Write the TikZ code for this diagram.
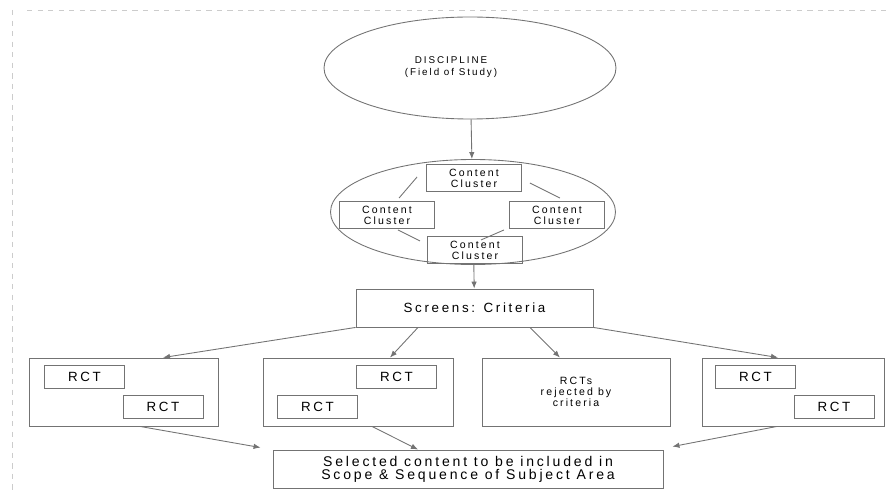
\documentclass[tikz,border=0pt]{standalone}
\usepackage{fontspec}
\setmainfont{Liberation Sans}[LetterSpace=20]
\usetikzlibrary{positioning, shapes.geometric, arrows.meta}

\begin{document}
\begin{tikzpicture}[x=0.2mm, y=-0.2mm, >={Latex[length=1.4mm, width=1.1mm]},
		line/.style={draw=black!55, line width=0.5pt},
		oval/.style={line, ellipse, inner sep=0pt},
		cbox/.style={line, rectangle, minimum width=19mm, minimum height=5.4mm, inner sep=0pt, align=center, font=\fontsize{6}{6.4}\selectfont},
		rbox/.style={line, rectangle, minimum width=16mm, minimum height=4.6mm, inner sep=0pt, font=\fontsize{7.6}{8}\selectfont},
		bigbox/.style={line, rectangle, minimum height=13.6mm, inner sep=0pt, align=center, font=\fontsize{6}{6.3}\selectfont},
		wire/.style={draw=black!55, line width=0.5pt}]
		\useasboundingbox (0, 0) rectangle (887, 493);
		% scan border
		\draw [black!20, dashed, line width=0.4pt] (27, 10) -- (887, 10);
		\draw [black!20, dashed, line width=0.4pt] (12, 10) -- (12, 493);

		\node[oval, minimum width=58.4mm, minimum height=20.4mm] (disc) at (470, 68) {};
		\node[align=center, font=\fontsize{5.6}{6.8}\selectfont] (disctext) at (451, 67) {DISCIPLINE\\(Field of Study)};
		\node[oval, minimum width=57mm, minimum height=21mm] (clus) at (473, 212) {};

		\node[cbox] (cltop) at (474, 178) {Content\\Cluster};
		\node[cbox] (clleft) at (387, 215) {Content\\Cluster};
		\node[cbox] (clright) at (557, 215) {Content\\Cluster};
		\node[cbox] (clbot) at (475, 250) {Content\\Cluster};
		\draw [wire] (cltop.west) ++(-9, -1) -- ++(-18, 21);
		\draw [wire] (cltop.east) ++(8, 5) -- ++(30, 15);
		\draw [wire] (clleft.south east) ++(-37, 1) -- ++(22, 11);
		\draw [wire] (clright.south west) ++(-5, 1) -- ++(-23, 10);

		\node[line, rectangle, minimum width=47.4mm, minimum height=7.6mm, inner sep=0pt, font=\fontsize{7.6}{8}\selectfont] (screen) at (474.5, 308) {Screens: Criteria};

		\node[bigbox, minimum width=37.8mm] (b1) at (123.5, 392) {};
		\node[bigbox, minimum width=38mm] (b2) at (358, 392) {};
		\node[bigbox, minimum width=37.6mm] (b3) at (576, 392) {RCTs\\rejected by\\criteria};
		\node[bigbox, minimum width=36.4mm] (b4) at (793, 392) {};

		\node[rbox] (r1a) at (84.5, 376.5) {RCT};
		\node[rbox] (r1b) at (163, 406.5) {RCT};
		\node[rbox] (r2a) at (396.5, 376.5) {RCT};
		\node[rbox] (r2b) at (317.5, 406.5) {RCT};
		\node[rbox] (r4a) at (755.5, 376.5) {RCT};
		\node[rbox] (r4b) at (834, 406.5) {RCT};

		\node[line, rectangle, minimum width=78mm, minimum height=7.6mm, inner sep=0pt, align=center, font=\fontsize{8}{7.4}\selectfont] (sel) at (468, 469) {Selected content to be included in\\Scope \& Sequence of Subject Area};

		\draw [wire, ->] (disc) -- (clus);
		\draw [wire, ->] (clus) -- (screen);
		\draw [wire, ->] (screen.south west) -- ([xshift=7.9mm]b1.north);
		\draw [wire, ->] ([xshift=-11.3mm]screen.south) -- ([xshift=6.4mm]b2.north);
		\draw [wire, ->] ([xshift=11.1mm]screen.south) -- ([xshift=-3.2mm]b3.north);
		\draw [wire, ->] (screen.south east) -- ([xshift=-3mm]b4.north);

		\draw [wire, ->] ([xshift=3.3mm]b1.south) -- ([xshift=-2.4mm, yshift=0.4mm]sel.north west);
		\draw [wire, ->] ([xshift=2.8mm]b2.south) -- ([xshift=-10mm]sel.north);
		\draw [wire, ->] ([xshift=-3.2mm]b4.south) -- ([xshift=1.8mm, yshift=0.6mm]sel.north east);
	\end{tikzpicture}
\end{document}
